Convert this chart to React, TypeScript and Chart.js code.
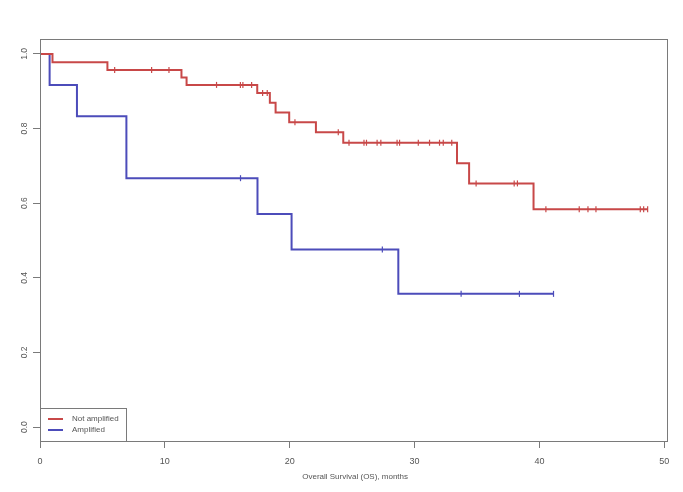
import React, { useEffect, useRef } from "react";
import { Chart, registerables } from "chart.js";

Chart.register(...registerables);

// ---- data ----
const xTickValues = [0, 10, 20, 30, 40, 50];
const yTickValues = [0, 0.2, 0.4, 0.6, 0.8, 1.0];
const xTitle = "Overall Survival (OS), months";
const seriesNames = ["Not amplified", "Amplified"];
const seriesColors = ["rgb(200,72,72)", "rgb(76,76,186)"];

// Not amplified: event times and survival after each step
const notAmpTimes = [0, 1.0, 5.4, 11.33, 11.74, 17.4, 18.41, 18.87, 19.96, 22.1, 24.29, 33.4, 34.37, 39.53];
const notAmpSurv = [1, 0.978, 0.957, 0.937, 0.917, 0.895, 0.869, 0.843, 0.817, 0.79, 0.762, 0.707, 0.653, 0.584];
const notAmpCensor = [
  5.98, 8.94, 10.33, 14.14, 16.05, 16.25, 16.95, 17.83, 18.2, 20.42, 23.89, 24.75,
  25.95, 26.15, 27.0, 27.3, 28.6, 28.8, 30.3, 31.2, 32.0, 32.3, 32.98, 34.93,
  37.98, 38.24, 40.52, 43.19, 43.89, 44.53, 48.08, 48.35, 48.67,
];

// Amplified
const ampTimes = [0, 0.77, 2.96, 6.92, 17.42, 20.15, 28.7];
const ampSurv = [1, 0.917, 0.833, 0.667, 0.571, 0.476, 0.357];
const ampCensor = [16.06, 27.42, 33.73, 38.4, 41.13];

// ---- helpers ----
function survAt(times: number[], surv: number[], t: number) {
  let s = surv[0];
  for (let i = 0; i < times.length; i++) if (times[i] <= t) s = surv[i];
  return s;
}
function stepPoints(times: number[], surv: number[], censor: number[]) {
  const pts = times.map((t, i) => ({ x: t, y: surv[i] }));
  const end = Math.max(times[times.length - 1], censor[censor.length - 1]);
  pts.push({ x: end, y: surv[surv.length - 1] });
  return pts;
}
function censorPoints(times: number[], surv: number[], censor: number[]) {
  return censor.map((t) => ({ x: t, y: survAt(times, surv, t) }));
}

const FONT = "'Liberation Sans', Arial, sans-serif";
const AXIS_GRAY = "#7a7a7a";
const TEXT_GRAY = "#555";

const decorPlugin = {
  id: "decor",
  afterDraw(chart: any) {
    const { ctx, chartArea } = chart;
    const xs = chart.scales.x;
    const ys = chart.scales.y;
    const { left, top, right, bottom } = chartArea;
    ctx.save();
    // box
    ctx.strokeStyle = AXIS_GRAY;
    ctx.lineWidth = 1;
    ctx.strokeRect(left + 0.5, top + 0.5, right - left - 1, bottom - top - 1);

    // x tick labels
    ctx.fillStyle = TEXT_GRAY;
    ctx.font = `9px ${FONT}`;
    ctx.textAlign = "center";
    ctx.textBaseline = "middle";
    xTickValues.forEach((v) => {
      ctx.fillText(String(v), xs.getPixelForValue(v), bottom + 20);
    });
    // x title
    ctx.font = `8px ${FONT}`;
    ctx.fillText(xTitle, (xs.getPixelForValue(0) + xs.getPixelForValue(50)) / 2 + 3, bottom + 35);

    // y tick labels (rotated)
    ctx.font = `8.5px ${FONT}`;
    yTickValues.forEach((v) => {
      const y = ys.getPixelForValue(v);
      ctx.save();
      ctx.translate(left - 15, y);
      ctx.rotate(-Math.PI / 2);
      ctx.fillText(v.toFixed(1), 0, 0);
      ctx.restore();
    });

    // legend
    const lx0 = left;
    const lx1 = left + 86;
    const ly0 = bottom - 34;
    ctx.strokeStyle = AXIS_GRAY;
    ctx.strokeRect(lx0 + 0.5, ly0 + 0.5, lx1 - lx0, bottom - ly0 - 1);
    ctx.font = `8px ${FONT}`;
    ctx.textAlign = "left";
    seriesNames.forEach((name, i) => {
      const y = ly0 + 11 + i * 11;
      ctx.strokeStyle = seriesColors[i];
      ctx.lineWidth = 2;
      ctx.beginPath();
      ctx.moveTo(lx0 + 8, y);
      ctx.lineTo(lx0 + 23, y);
      ctx.stroke();
      ctx.fillStyle = TEXT_GRAY;
      ctx.fillText(name, lx0 + 32, y);
    });
    ctx.restore();
  },
};

export default function App() {
  const ref = useRef<HTMLCanvasElement | null>(null);

  useEffect(() => {
    if (!ref.current) return;
    const chart = new Chart(ref.current, {
      type: "line",
      data: {
        datasets: [
          {
            label: seriesNames[0],
            data: stepPoints(notAmpTimes, notAmpSurv, notAmpCensor),
            stepped: "before",
            borderColor: seriesColors[0],
            borderWidth: 2,
            pointRadius: 0,
            fill: false,
          },
          {
            label: seriesNames[1],
            data: stepPoints(ampTimes, ampSurv, ampCensor),
            stepped: "before",
            borderColor: seriesColors[1],
            borderWidth: 2,
            pointRadius: 0,
            fill: false,
          },
          {
            label: seriesNames[0] + " censored",
            data: censorPoints(notAmpTimes, notAmpSurv, notAmpCensor),
            showLine: false,
            pointStyle: "line",
            rotation: 90,
            pointRadius: 3,
            pointBorderWidth: 1.2,
            borderColor: seriesColors[0],
            backgroundColor: seriesColors[0],
          },
          {
            label: seriesNames[1] + " censored",
            data: censorPoints(ampTimes, ampSurv, ampCensor),
            showLine: false,
            pointStyle: "line",
            rotation: 90,
            pointRadius: 3,
            pointBorderWidth: 1.2,
            borderColor: seriesColors[1],
            backgroundColor: seriesColors[1],
          },
        ] as any,
      },
      options: {
        animation: false,
        responsive: false,
        maintainAspectRatio: false,
        layout: { padding: { left: 0, top: 39, right: 15, bottom: 0 } },
        plugins: { legend: { display: false }, tooltip: { enabled: false } },
        scales: {
          x: {
            type: "linear",
            min: 0,
            max: 50.3,
            afterBuildTicks: (s: any) => {
              s.ticks = xTickValues.map((v) => ({ value: v }));
            },
            afterFit: (s: any) => {
              s.height = 50;
            },
            ticks: { display: false },
            border: { display: false },
            grid: {
              display: true,
              drawOnChartArea: false,
              drawTicks: true,
              tickLength: 6,
              tickColor: AXIS_GRAY,
              color: "transparent",
            },
          },
          y: {
            type: "linear",
            min: -0.04,
            max: 1.04,
            afterBuildTicks: (s: any) => {
              s.ticks = yTickValues.map((v) => ({ value: v }));
            },
            afterFit: (s: any) => {
              s.width = 40;
            },
            ticks: { display: false },
            border: { display: false },
            grid: {
              display: true,
              drawOnChartArea: false,
              drawTicks: true,
              tickLength: 7,
              tickColor: AXIS_GRAY,
              color: "transparent",
            },
          },
        },
      } as any,
      plugins: [decorPlugin],
    });
    return () => chart.destroy();
  }, []);

  return (
    <div style={{ position: "absolute", left: 0, top: 0, width: 683, height: 492, background: "#fff" }}>
      <canvas ref={ref} width={683} height={492} style={{ display: "block" }} />
    </div>
  );
}
